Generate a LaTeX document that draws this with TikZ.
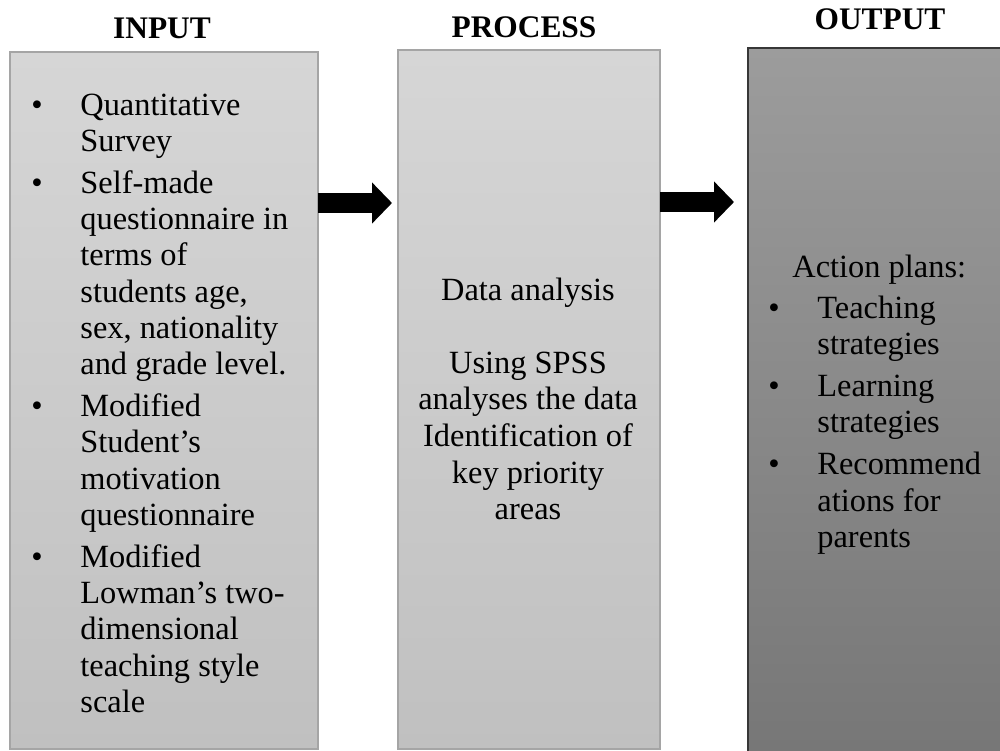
\documentclass[tikz,border=0pt]{standalone}
\usepackage{fontspec}
\setmainfont{Liberation Serif}
\usetikzlibrary{arrows.meta}
\definecolor{intop}{RGB}{214,214,214}
\definecolor{inbot}{RGB}{192,192,192}
\definecolor{inedge}{RGB}{165,165,165}
\definecolor{outtop}{RGB}{156,156,156}
\definecolor{outbot}{RGB}{118,118,118}
\definecolor{outedge}{RGB}{55,55,55}
\begin{document}
\begin{tikzpicture}[x=0.5pt,y=-0.5pt,
  lightbox/.style={rectangle, inner sep=0pt, outer sep=0pt, anchor=north west,
    draw=inedge, line width=0.75pt, top color=intop, bottom color=inbot},
  darkbox/.style={rectangle, inner sep=0pt, outer sep=0pt, anchor=north west,
    draw=outedge, line width=0.8pt, top color=outtop, bottom color=outbot},
  heading/.style={inner sep=0pt, anchor=base, font=\bfseries\fontsize{15.7}{18}\selectfont},
  body/.style={inner sep=0pt, font=\fontsize{16.2}{18.1}\selectfont},
  blockarrow/.style={line width=10pt, -{Triangle[length=10pt,width=20pt]}}
]
\useasboundingbox (0,0) rectangle (1000,750);
\clip (0,0) rectangle (1000,750);

% boxes
\node[lightbox, minimum width=154pt, minimum height=348.5pt] (inp) at (10,52) {};
\node[lightbox, minimum width=131pt, minimum height=349.5pt] (proc) at (398,50) {};
\node[darkbox, minimum width=134pt, minimum height=360pt] (outp) at (748,48) {};

% headings
\node[heading] (hin) at (162,38) {INPUT};
\node[heading] (hproc) at (524,37) {PROCESS};
\node[heading] (hout) at (880,29) {OUTPUT};

% input text
\node[body, anchor=base west] (intext) at (31,115) {%
\begin{tabular}[t]{@{}p{24.5pt}@{}l@{}}
\textbullet & Quantitative\\
 & Survey\\[3pt]
\textbullet & Self-made\\
 & questionnaire in\\
 & terms of\\
 & students age,\\
 & sex, nationality\\
 & and grade level.\\[3pt]
\textbullet & Modified\\
 & Student’s\\
 & motivation\\
 & questionnaire\\[3pt]
\textbullet & Modified\\
 & Lowman’s two-\\
 & dimensional\\
 & teaching style\\
 & scale
\end{tabular}};

% process text
\node[body, anchor=base, font=\fontsize{16.2}{18.3}\selectfont] (proctext) at (528,300) {%
\begin{tabular}[t]{@{}c@{}}
Data analysis\\
\\
Using SPSS\\
analyses the data\\
Identification of\\
key priority\\
areas
\end{tabular}};

% output text
\node[body, anchor=base west] (acttitle) at (792,277) {Action plans:};
\node[body, anchor=base west] (outtext) at (768,318) {%
\begin{tabular}[t]{@{}p{24.5pt}@{}l@{}}
\textbullet & Teaching\\
 & strategies\\[3pt]
\textbullet & Learning\\
 & strategies\\[3pt]
\textbullet & Recommend\\
 & ations for\\
 & parents
\end{tabular}};

% arrows
\coordinate (ya) at (0,203);
\coordinate (yb) at (0,202);
\draw[blockarrow, shorten >=3pt] (inp.east |- ya) -- (proc.west |- ya);
\draw[blockarrow, shorten >=7pt] (proc.east |- yb) -- (outp.west |- yb);
\end{tikzpicture}
\end{document}
